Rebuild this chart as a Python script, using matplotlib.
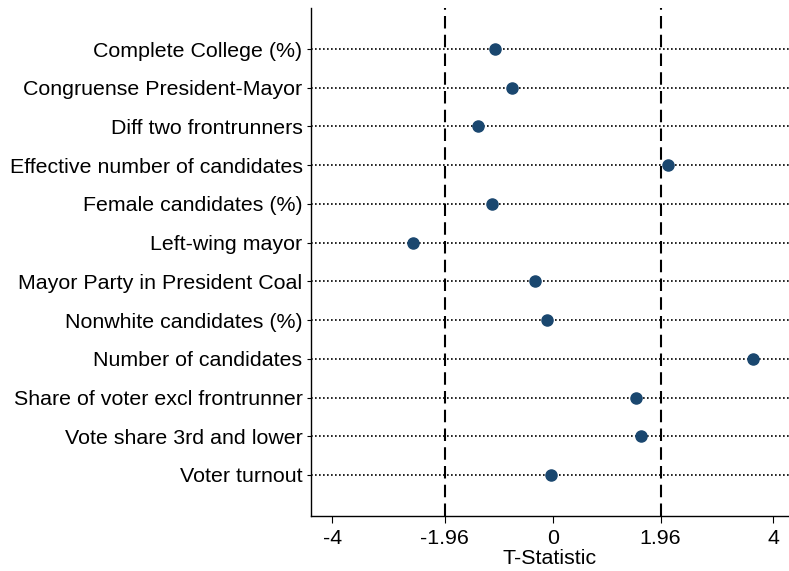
import matplotlib
matplotlib.use("Agg")
import matplotlib.pyplot as plt

variables = [
    "Complete College (%)",
    "Congruense President-Mayor",
    "Diff two frontrunners",
    "Effective number of candidates",
    "Female candidates (%)",
    "Left-wing mayor",
    "Mayor Party in President Coal",
    "Nonwhite candidates (%)",
    "Number of candidates",
    "Share of voter excl frontrunner",
    "Vote share 3rd and lower",
    "Voter turnout",
]
t_stats = [-1.04, -0.735, -1.36, 2.10, -1.11, -2.54, -0.32, -0.105, 3.64, 1.51, 1.60, -0.03]
xtick_values = [-4, -1.96, 0, 1.96, 4]
xtick_labels = ["-4", "-1.96", "0", "1.96", "4"]
critical = [-1.96, 1.96]

plt.rcParams["font.family"] = ["Liberation Sans", "DejaVu Sans"]

fig = plt.figure(figsize=(7.89, 5.71), dpi=100)
ax = fig.add_axes([0.394, 0.0963, 0.606, 0.8897])

ypos = list(range(1, len(variables) + 1))

for y in ypos:
    ax.axhline(y, color="black", linestyle=(0, (1, 1.4)), linewidth=1.2, zorder=1)

for c in critical:
    ax.axvline(c, color="black", linestyle=(0, (6, 3)), linewidth=1.5, zorder=2)

ax.plot(t_stats, ypos, linestyle="none", marker="o", markersize=8,
        color="#1a476f", zorder=3)

ax.set_xlim(-4.39, 4.29)
ax.set_ylim(len(variables) + 1.06, 1 - 1.06)

fs = 15.4
ax.set_yticks(ypos)
ax.set_yticklabels(variables, fontsize=fs)
ax.set_xticks(xtick_values)
ax.set_xticklabels(xtick_labels, fontsize=fs)
ax.set_xlabel("T-Statistic", fontsize=fs, labelpad=1)

ax.tick_params(axis="y", length=3, width=0.8, pad=3)
ax.tick_params(axis="x", length=5, width=0.8, pad=4)

ax.spines["top"].set_visible(False)
ax.spines["right"].set_visible(False)
ax.spines["left"].set_linewidth(1.0)
ax.spines["bottom"].set_linewidth(1.0)

fig.savefig("out.png", dpi=100)
